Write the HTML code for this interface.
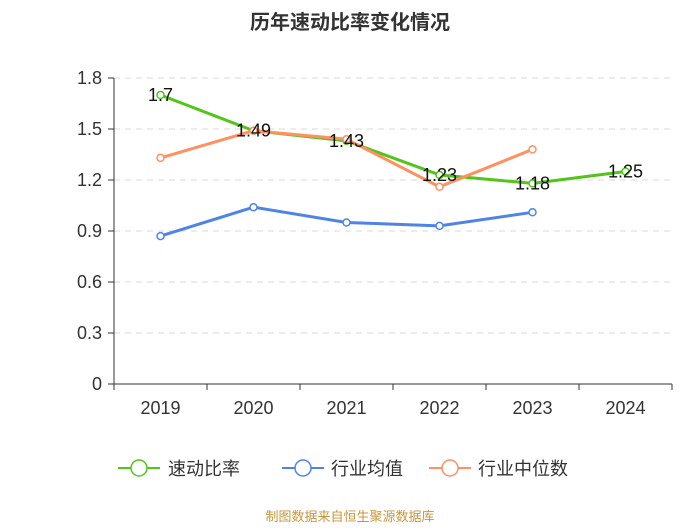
<!DOCTYPE html>
<html><head><meta charset="utf-8"><style>
body{margin:0;background:#fff;}
svg{font-family:"Liberation Sans","Noto Sans CJK SC",sans-serif;}
</style></head><body>
<svg width="700" height="525" id="c">
<text x="350" y="29" text-anchor="middle" font-size="20" font-weight="bold" fill="#333">历年速动比率变化情况</text>
<g id="grid"></g><g id="axes"></g><g id="series"></g><g id="labels"></g>
<g>
<g><line x1="118" y1="468" x2="160" y2="468" stroke="#52c41a" stroke-width="2"/><circle cx="139" cy="468" r="8" fill="#fff" stroke="#52c41a" stroke-width="1.5"/><text x="168" y="475" font-size="18" fill="#333">速动比率</text></g>
<g><line x1="282" y1="468" x2="324" y2="468" stroke="#4e84e8" stroke-width="2"/><circle cx="303" cy="468" r="8" fill="#fff" stroke="#4e84e8" stroke-width="1.5"/><text x="331" y="475" font-size="18" fill="#333">行业均值</text></g>
<g><line x1="429" y1="468" x2="471" y2="468" stroke="#ff9060" stroke-width="2"/><circle cx="450" cy="468" r="8" fill="#fff" stroke="#ff9060" stroke-width="1.5"/><text x="478" y="475" font-size="18" fill="#333">行业中位数</text></g>
</g>
<text x="350" y="521" text-anchor="middle" font-size="13" fill="#c8963c">制图数据来自恒生聚源数据库</text>
</svg>
<script>
const categories=["2019","2020","2021","2022","2023","2024"];
const yTicks=[0,0.3,0.6,0.9,1.2,1.5,1.8];
const yTickLabels=["0","0.3","0.6","0.9","1.2","1.5","1.8"];
const quickRatio=[1.7,1.49,1.43,1.23,1.18,1.25];
const industryAvg=[0.87,1.04,0.95,0.93,1.01];
const industryMedian=[1.33,1.49,1.44,1.16,1.38];
const NS="http://www.w3.org/2000/svg";
const x0=114,x1=672,yb=384,yt=78;
const bw=(x1-x0)/categories.length;
const X=i=>x0+bw*(i+0.5);
const Y=v=>yb-(v/1.8)*(yb-yt);
function mk(tag,attrs,parent){const e=document.createElementNS(NS,tag);for(const k in attrs)e.setAttribute(k,attrs[k]);document.getElementById(parent).appendChild(e);return e;}
yTicks.forEach((t,i)=>{
 if(t>0){const g=mk('line',{x1:x0,x2:x1,y1:Y(t),y2:Y(t),stroke:'#d9d9d9','stroke-dasharray':'6,5'},'grid');
 
 }
 const tk=mk('line',{x1:x0-6,x2:x0,y1:Y(t),y2:Y(t),stroke:'#333'},'axes');
 
 
 const l=mk('text',{x:x0-12,y:Y(t)+6,'text-anchor':'end','font-size':'18',fill:'#333'},'axes');
 l.textContent=yTickLabels[i];
 
 
});
let a=mk('line',{x1:x0,x2:x0,y1:yt,y2:yb,stroke:'#333'},'axes');


a=mk('line',{x1:x0,x2:x1,y1:yb,y2:yb,stroke:'#333'},'axes');


for(let i=0;i<=categories.length;i++){const t=mk('line',{x1:x0+bw*i,x2:x0+bw*i,y1:yb,y2:yb+6,stroke:'#333'},'axes');
 
 }
categories.forEach((c,i)=>{const l=mk('text',{x:X(i),y:yb+30,'text-anchor':'middle','font-size':'18',fill:'#333'},'axes');l.textContent=c;
 
 });
function series(vals,color,name){
 const p=mk('polyline',{points:vals.map((v,i)=>X(i)+','+Y(v)).join(' '),fill:'none',stroke:color,'stroke-width':'3'},'series');
 
 
 vals.forEach((v,i)=>{const c=mk('circle',{cx:X(i),cy:Y(v),r:3.5,fill:'#fff',stroke:color,'stroke-width':'1.5'},'series');
 
 });
}
series(quickRatio,'#52c41a','quick-ratio');
series(industryAvg,'#4e84e8','industry-average');
series(industryMedian,'#ff9060','industry-median');
quickRatio.forEach((v,i)=>{const l=mk('text',{x:X(i),y:Y(v)+6,'text-anchor':'middle','font-size':'18',fill:'#111'},'labels');l.textContent=String(v);
 
 });
</script>
</body></html>
